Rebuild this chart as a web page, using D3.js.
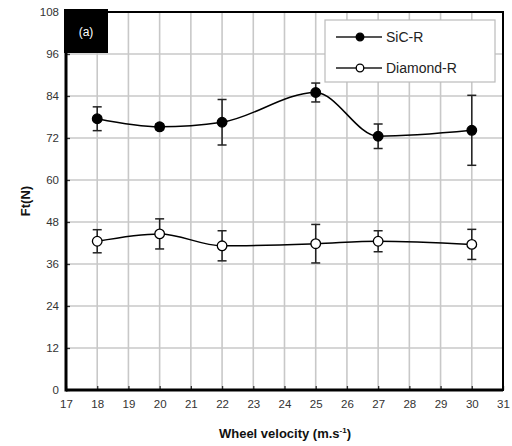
<!DOCTYPE html>
<html><head><meta charset="utf-8">
<script src="https://cdn.jsdelivr.net/npm/d3@7"></script>
<style>body{margin:0;background:#fff}svg{display:block}</style>
</head><body>
<svg id="c" width="512" height="446"></svg>
<script>
const velocities = [18, 20, 22, 25, 27, 30];
const sicMean = [77.5, 75.2, 76.5, 85.0, 72.5, 74.2];
const sicErr  = [3.4, 0.8, 6.5, 2.7, 3.5, 10.0];
const diaMean = [42.5, 44.6, 41.2, 41.8, 42.5, 41.6];
const diaErr  = [3.3, 4.3, 4.3, 5.5, 3.0, 4.3];
const xTicks = [17,18,19,20,21,22,23,24,25,26,27,28,29,30,31];
const yTicks = [0,12,24,36,48,60,72,84,96,108];

const svg = d3.select("#c");
const L = 66, R = 503, T = 12, B = 390;
const x = d3.scaleLinear().domain([17, 31]).range([L, R]);
const y = d3.scaleLinear().domain([0, 108]).range([B, T]);
const font = "Liberation Sans, Arial, sans-serif";

// grid
svg.append("g").selectAll("line.v").data(xTicks.slice(1, -1)).join("line")
  .attr("x1", d => x(d)).attr("x2", d => x(d)).attr("y1", T).attr("y2", B)
  .attr("stroke", "#c8c8c8").attr("stroke-width", 1.6);
svg.append("g").selectAll("line.h").data(yTicks.slice(1, -1)).join("line")
  .attr("y1", d => y(d)).attr("y2", d => y(d)).attr("x1", L).attr("x2", R)
  .attr("stroke", "#c8c8c8").attr("stroke-width", 1.6);

// axes (ticks point inward)
const xAxis = svg.append("g").attr("transform", `translate(0,${B})`)
  .call(d3.axisBottom(x).tickValues(xTicks).tickSize(-4).tickPadding(10).tickFormat(d3.format("d")));
const yAxis = svg.append("g").attr("transform", `translate(${L},0)`)
  .call(d3.axisLeft(y).tickValues(yTicks).tickSize(-4).tickPadding(7).tickFormat(d3.format("d")));
[xAxis, yAxis].forEach(a => {
  a.select(".domain").remove();
  a.selectAll("line").attr("stroke", "#333").attr("stroke-width", 1.3);
  a.selectAll("text").attr("font-family", font).attr("font-size", 11.5).attr("fill", "#333");
});

// frame
svg.append("rect").attr("x", L).attr("y", T).attr("width", R - L).attr("height", B - T)
  .attr("fill", "none").attr("stroke", "#000").attr("stroke-width", 2);
svg.append("line").attr("x1", L).attr("x2", L).attr("y1", T).attr("y2", B + 1.5)
  .attr("stroke", "#000").attr("stroke-width", 3);
svg.append("line").attr("x1", L).attr("x2", R).attr("y1", B).attr("y2", B)
  .attr("stroke", "#000").attr("stroke-width", 3);

// (a) label
svg.append("rect").attr("x", 64).attr("y", 9).attr("width", 44).attr("height", 44).attr("fill", "#000");
svg.append("text").attr("x", 86).attr("y", 36).attr("text-anchor", "middle")
  .attr("font-family", font).attr("font-size", 12).attr("fill", "#fff").text("(a)");

// series
function drawSeries(mean, err, filled) {
  const data = velocities.map((v, i) => ({v, m: mean[i], e: err[i]}));
  const g = svg.append("g");
  g.append("path").datum(data)
    .attr("d", d3.line().x(d => x(d.v)).y(d => y(d.m)).curve(d3.curveMonotoneX))
    .attr("fill", "none").attr("stroke", "#000").attr("stroke-width", 1.5);
  const eb = g.selectAll("g.eb").data(data).join("g").attr("stroke", "#222").attr("stroke-width", 1.5);
  eb.append("line").attr("x1", d => x(d.v)).attr("x2", d => x(d.v))
    .attr("y1", d => y(d.m - d.e)).attr("y2", d => y(d.m + d.e));
  eb.append("line").attr("x1", d => x(d.v) - 4.5).attr("x2", d => x(d.v) + 4.5)
    .attr("y1", d => y(d.m + d.e)).attr("y2", d => y(d.m + d.e));
  eb.append("line").attr("x1", d => x(d.v) - 4.5).attr("x2", d => x(d.v) + 4.5)
    .attr("y1", d => y(d.m - d.e)).attr("y2", d => y(d.m - d.e));
  g.selectAll("circle").data(data).join("circle")
    .attr("cx", d => x(d.v)).attr("cy", d => y(d.m)).attr("r", 4.8)
    .attr("fill", filled ? "#000" : "#fff").attr("stroke", "#000").attr("stroke-width", 1.3);
}
drawSeries(sicMean, sicErr, true);
drawSeries(diaMean, diaErr, false);

// legend
const lg = svg.append("g");
lg.append("rect").attr("x", 325).attr("y", 20).attr("width", 170).attr("height", 62)
  .attr("fill", "#fff").attr("stroke", "#bbb").attr("stroke-width", 1.2);
const legendNames = ["SiC-R", "Diamond-R"];
legendNames.forEach((name, i) => {
  const yy = 37 + i * 31;
  lg.append("line").attr("x1", 336).attr("x2", 382).attr("y1", yy).attr("y2", yy)
    .attr("stroke", "#555").attr("stroke-width", 1.8);
  lg.append("circle").attr("cx", 360).attr("cy", yy).attr("r", 3.8)
    .attr("fill", i === 0 ? "#000" : "#fff").attr("stroke", "#000").attr("stroke-width", 1.3);
  lg.append("text").attr("x", 386).attr("y", yy + 5)
    .attr("font-family", font).attr("font-size", 14).attr("fill", "#222").text(name);
});

// axis titles
svg.append("text").attr("transform", `translate(30,${(T + B) / 2}) rotate(-90)`)
  .attr("text-anchor", "middle").attr("font-family", font).attr("font-weight", "bold")
  .attr("font-size", 13).attr("fill", "#111").text("Ft(N)");
const xt = svg.append("text").attr("x", 285).attr("y", 438).attr("text-anchor", "middle")
  .attr("font-family", font).attr("font-weight", "bold").attr("font-size", 13).attr("fill", "#111");
xt.append("tspan").text("Wheel velocity (m.s");
xt.append("tspan").attr("font-size", 8).attr("dy", -5).text("-1");
xt.append("tspan").attr("dy", 5).text(")");
</script>
</body></html>
